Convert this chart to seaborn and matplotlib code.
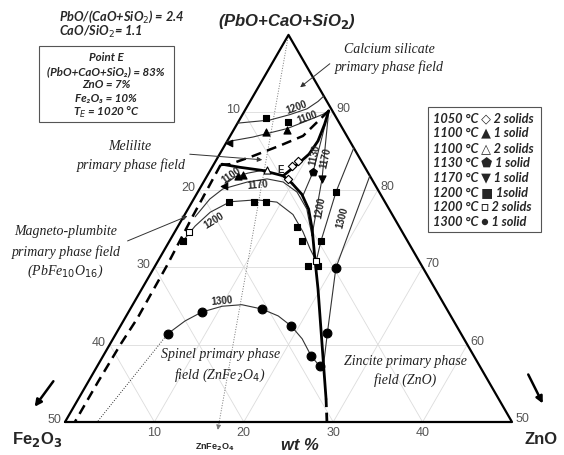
import numpy as np
import matplotlib
matplotlib.use("Agg")
import matplotlib.pyplot as plt
from matplotlib.patches import Rectangle
import seaborn as sns

# compositions, wt% ZnO and wt% Fe2O3 (rest = PbO+CaO+SiO2)
pt_J = (9.4, 0.4)
pt_E = (8.5, 9.7)

# thick phase boundaries
cs_mel_zno = [9.4, 9.8, 10.15, 10.0, 9.45, 8.5]
cs_mel_fe = [0.4, 1.7, 3.55, 5.4, 7.1, 9.7]
mel_sp_zno = [0.9, 3.1, 5.8, 8.5]
mel_sp_fe = [15.8, 14.0, 11.7, 9.7]
sp_zn_zno = [8.5, 9.95, 11.8, 13.5, 15.2, 17.4, 19.7, 22.6, 25.5, 27.7]
sp_zn_fe = [9.7, 9.2, 8.8, 9.0, 9.9, 11.5, 13.1, 15.35, 17.6, 19.3]
sp_zn_end_zno = [27.7, 29.3]
sp_zn_end_fe = [19.3, 20.7]

# dashed boundaries
mp_mel_zno = [9.4, 8.15, 6.2, 3.85, 1.8, 0.8]
mp_mel_fe = [0.4, 4.9, 8.1, 11.8, 14.9, 16.0]
mp_sp_zno = [0.8, 1.0, 1.3, 1.4, 1.2, 1.1, 1.1]
mp_sp_fe = [16.0, 22.5, 28.5, 35.2, 38.7, 43.8, 48.9]

# isotherms
iso1200_cs_zno = [0.0, 3.4, 5.3, 6.85, 7.6, 7.9]
iso1200_cs_fe = [11.4, 7.6, 5.0, 2.7, 1.0, 0.0]
iso1100_cs_zno = [0.0, 2.6, 5.9, 7.6, 9.0, 9.4]
iso1100_cs_fe = [13.8, 10.6, 6.2, 3.5, 1.25, 0.4]
iso1100_mel_zno = [2.6, 3.2, 4.4, 5.4, 6.3]
iso1100_mel_fe = [16.6, 15.15, 13.45, 12.2, 11.1]
iso1170_sp_zno = [1.3, 1.8, 2.6, 4.9, 6.9, 8.9, 11.1, 13.3, 15.6]
iso1170_sp_fe = [22.2, 19.4, 17.3, 14.1, 11.7, 10.1, 9.2, 9.2, 10.35]
iso1200_sp_zno = [1.5, 1.9, 2.7, 4.25, 7.1, 9.5, 12.1, 14.35, 16.2, 17.7]
iso1200_sp_fe = [25.1, 22.8, 20.2, 17.3, 14.2, 12.1, 11.1, 11.1, 11.4, 11.5]
iso1300_sp_zno = [5.8, 6.9, 8.2, 10.1, 12.2, 14.7, 17.0, 19.1, 21.15, 23.3, 24.9, 25.5]
iso1300_sp_fe = [32.8, 30.05, 27.6, 24.95, 22.65, 20.7, 19.3, 18.5, 18.1, 18.2, 17.9, 17.8]
iso1300_ext_zno = [5.8, 3.6]
iso1300_ext_fe = [32.8, 46.4]
iso1130_zn_zno = [9.4, 11.6, 12.0]
iso1130_zn_fe = [0.4, 6.1, 8.8]
iso1170_zn_zno = [9.4, 13.05, 15.6]
iso1170_zn_fe = [0.4, 5.55, 10.35]
iso1200_zn_zno = [14.6, 15.45, 16.95, 17.7]
iso1200_zn_fe = [0.0, 4.8, 9.7, 11.5]
iso1300_zn_zno = [18.2, 20.35, 23.6, 25.5]
iso1300_zn_fe = [0.0, 9.75, 14.9, 17.8]

# experimental points
d1050_zno, d1050_fe = [9.2, 8.85, 9.25], [7.1, 8.1, 9.35]
t1100_zno, t1100_fe = [3.75, 5.95, 3.45, 3.95], [8.8, 6.3, 14.75, 14.15]
o1100_zno, o1100_fe = [6.3], [11.1]
h1130_zno, h1130_fe = [11.6], [6.1]
v1170_zno, v1170_fe = [13.05], [5.55]
s1200_zno = [2.85, 5.55, 4.15, 6.95, 8.25, 13.35, 14.8, 1.5, 17.1, 18.2, 16.95, 15.45]
s1200_fe = [7.9, 5.7, 17.45, 14.65, 13.3, 11.45, 11.8, 25.1, 12.75, 11.6, 9.7, 4.8]
os1200_zno, os1200_fe = [17.7, 1.6], [11.5, 23.9]
c1300_zno = [5.8, 8.2, 14.75, 19.1, 23.25, 24.9, 20.35, 23.6]
c1300_fe = [32.8, 27.6, 20.65, 18.5, 18.2, 17.9, 9.75, 14.9]
tip_zno, tip_fe = [0.3, 2.5], [13.6, 17.0]

ZNFE2O4_ZNO = 34.5   # direction of the ZnFe2O4 join, ZnO share of (ZnO+Fe2O3)
grid_ticks = [10, 20, 30, 40]

legend_rows = ["1050 °C ◇ 2 solids", "1100 °C ▲ 1 solid", "1100 °C △ 2 solids",
               "1130 °C ⬟ 1 solid", "1170 °C ▼ 1 solid", "1200 °C ■ 1solid",
               "1200 °C □ 2 solids", "1300 °C ● 1 solid"]
box_rows = ["Point E", "(PbO+CaO+SiO₂) = 83%", "ZnO = 7%", "Fe₂O₃ = 10%", r"T$_E$ = 1020 °C"]


def tern(zno, fe):
    zno = np.asarray(zno, dtype=float)
    fe = np.asarray(fe, dtype=float)
    return 25 + (zno - fe) / 2, (50 - zno - fe) * np.sqrt(3) / 2


def px(x, y):
    # figure pixel -> data units, used only to place annotations
    return (x - 65) / 8.94, (423 - y) / 8.94


def curve(ax, zno, fe, **kw):
    x, y = tern(zno, fe)
    sns.lineplot(x=x, y=y, sort=False, estimator=None, ax=ax, **kw)


def points(ax, zno, fe, marker, s, face="black", lw=0.8):
    x, y = tern(zno, fe)
    sns.scatterplot(x=x, y=y, marker=marker, s=s, color=face, edgecolor="black",
                    linewidth=lw, ax=ax, zorder=5)


sns.set_style("white")
plt.rcParams["font.family"] = ["Liberation Sans", "DejaVu Sans"]

fig = plt.figure(figsize=(5.64, 4.56), dpi=100)
ax = fig.add_axes([0, 0, 1, 1])
ax.set_xlim(-65 / 8.94, 499 / 8.94)
ax.set_ylim(-33 / 8.94, 423 / 8.94)
ax.axis("off")

# grid
for k in grid_ticks:
    for zs, fs in [([k, k], [0, 50 - k]), ([0, 50 - k], [k, k]), ([0, k], [k, 0])]:
        x, y = tern(zs, fs)
        ax.plot(x, y, color="#dcdcdc", lw=0.6, zorder=0)

# ZnFe2O4 join (dotted, from apex)
x, y = tern([0, 51 * ZNFE2O4_ZNO / 100], [0, 51 * (100 - ZNFE2O4_ZNO) / 100])
ax.plot(x, y, color="#777777", lw=0.7, ls=":", zorder=1)
ax.annotate("", xy=(x[1], y[1]), xytext=(x[1] + 0.1, y[1] + 0.6),
            arrowprops=dict(arrowstyle="-|>", color="#777777", lw=0.6, mutation_scale=7))

# triangle outline
curve(ax, [0, 50, 0, 0], [50, 0, 0, 50], color="black", lw=1.6)

# isotherms
iso = dict(color="#333333", lw=0.8)
for zs, fs in [(iso1200_cs_zno, iso1200_cs_fe), (iso1100_cs_zno, iso1100_cs_fe),
               (iso1100_mel_zno, iso1100_mel_fe), (iso1170_sp_zno, iso1170_sp_fe),
               (iso1200_sp_zno, iso1200_sp_fe), (iso1300_sp_zno, iso1300_sp_fe),
               (iso1130_zn_zno, iso1130_zn_fe), (iso1170_zn_zno, iso1170_zn_fe),
               (iso1200_zn_zno, iso1200_zn_fe), (iso1300_zn_zno, iso1300_zn_fe)]:
    curve(ax, zs, fs, **iso)
curve(ax, iso1300_ext_zno, iso1300_ext_fe, color="#333333", lw=0.7, ls=":")

# boundaries
curve(ax, cs_mel_zno, cs_mel_fe, color="black", lw=2.0)
curve(ax, mel_sp_zno, mel_sp_fe, color="black", lw=2.0)
curve(ax, sp_zn_zno, sp_zn_fe, color="black", lw=2.0)
curve(ax, sp_zn_end_zno, sp_zn_end_fe, color="black", lw=2.0, ls=(0, (3, 2)))
curve(ax, mp_mel_zno, mp_mel_fe, color="black", lw=1.8, ls=(0, (4, 2.5)))
curve(ax, mp_sp_zno, mp_sp_fe, color="black", lw=1.8, ls=(0, (4, 2.5)))

# data points
points(ax, s1200_zno, s1200_fe, "s", 22)
points(ax, os1200_zno, os1200_fe, "s", 22, face="white")
points(ax, t1100_zno, t1100_fe, "^", 26)
points(ax, o1100_zno, o1100_fe, "^", 26, face="white")
points(ax, tip_zno, tip_fe, "<", 22)
points(ax, d1050_zno, d1050_fe, "D", 18, face="white")
points(ax, h1130_zno, h1130_fe, "p", 34)
points(ax, v1170_zno, v1170_fe, "v", 26)
points(ax, c1300_zno, c1300_fe, "o", 40)

# curve labels
for txt, (cx, cy), rot in [("1200", (297, 107), 20), ("1100", (307, 118), 20),
                           ("1100", (231, 176), 35), ("1170", (258, 185), 5),
                           ("1200", (214, 221), 32), ("1130", (315, 155), 78),
                           ("1170", (326, 158), 78), ("1200", (320, 208), 80),
                           ("1300", (342, 218), 75), ("1300", (222, 301), 5),
                           ("E", (281, 170), 0)]:
    ax.text(*px(cx, cy), txt, rotation=rot, fontsize=7, fontweight="bold",
            ha="center", va="center", zorder=6)

# axis tick labels
tick_style = dict(fontsize=9, color="#555555", ha="center", va="center",
                  textcoords="offset points")
for k in grid_ticks + [50]:
    ax.annotate(str(k), xy=tern(0, k), xytext=(-7.6, 2.2), **tick_style)
    ax.annotate(str(100 - k), xy=tern(k, 0), xytext=(7.2, 2.9), **tick_style)
for k in grid_ticks:
    ax.annotate(str(k), xy=tern(k, 50 - k), xytext=(0, -7.2), **tick_style)

# titles and corner labels
ax.text(*px(287, 22), r"(PbO+CaO+SiO$_\mathbf{2}$)", fontsize=12, fontweight="bold",
        fontstyle="italic", ha="center", va="center")
ax.text(*px(37, 440), r"Fe$_\mathbf{2}$O$_\mathbf{3}$", fontsize=12, fontweight="bold",
        ha="center", va="center")
ax.text(*px(541, 440), "ZnO", fontsize=12, fontweight="bold", ha="center", va="center")
ax.text(*px(300, 446), "wt %", fontsize=12, fontweight="bold", fontstyle="italic",
        ha="center", va="center")
ax.text(*px(215, 447), r"ZnFe$_\mathbf{2}$O$_\mathbf{4}$", fontsize=6.5, fontweight="bold",
        ha="center", va="center")

# big direction arrows
for (x0, y0), (x1, y1) in [((55, 380), (33, 410)), ((527, 373), (544, 407))]:
    ax.annotate("", xy=px(x1, y1), xytext=px(x0, y0),
                arrowprops=dict(arrowstyle="-|>", color="black", lw=1.8, mutation_scale=10))

# phase field labels
serif = dict(family=["Liberation Serif", "DejaVu Serif"], fontstyle="italic",
             fontsize=10, color="#222222", ha="center", va="center")
for txt, (cx, cy) in [("Calcium silicate", (389, 50)), ("primary phase field", (389, 67)),
                      ("Melilite", (130, 147)), ("primary phase field", (131, 165)),
                      ("Magneto-plumbite", (66, 232)), ("primary phase field", (66, 252)),
                      (r"(PbFe$_{10}$O$_{16}$)", (65, 271)),
                      ("Spinel primary phase", (221, 355)), (r"field (ZnFe$_2$O$_4$)", (220, 375)),
                      ("Zincite primary phase", (405, 362)), ("field (ZnO)", (405, 380))]:
    ax.text(*px(cx, cy), txt, **serif)

for (x0, y0), (x1, y1) in [((332, 63), (298, 90)), ((187, 155), (265, 161)),
                           ((125, 243), (190, 216))]:
    ax.annotate("", xy=px(x1, y1), xytext=px(x0, y0),
                arrowprops=dict(arrowstyle="-|>", color="#333333", lw=0.7, mutation_scale=7))

# ratio notes and point E box
bi = dict(family=["Lato", "DejaVu Sans"], fontweight="bold", fontstyle="italic")
ax.text(*px(59, 17), r"PbO/(CaO+SiO$_2$) = 2.4", ha="left", va="center", fontsize=9.2, **bi)
ax.text(*px(59, 32), r"CaO/SiO$_2$= 1.1", ha="left", va="center", fontsize=9.2, **bi)

x0, y0 = px(39, 123)
x1, y1 = px(174, 47)
ax.add_patch(Rectangle((x0, y0), x1 - x0, y1 - y0, fill=False, lw=0.8, ec="#555555"))
for i, txt in enumerate(box_rows):
    ax.text(*px(106, 58 + i * 13.5), txt, ha="center", va="center", fontsize=8.3, **bi)

# legend box
x0, y0 = px(428, 233)
x1, y1 = px(541, 108)
ax.add_patch(Rectangle((x0, y0), x1 - x0, y1 - y0, fill=False, lw=0.8, ec="#555555"))
for i, row in enumerate(legend_rows):
    ax.text(*px(433, 118 + i * 14.9), row, ha="left", va="center", fontsize=9.2, **bi)

fig.savefig("out.png", dpi=100)
